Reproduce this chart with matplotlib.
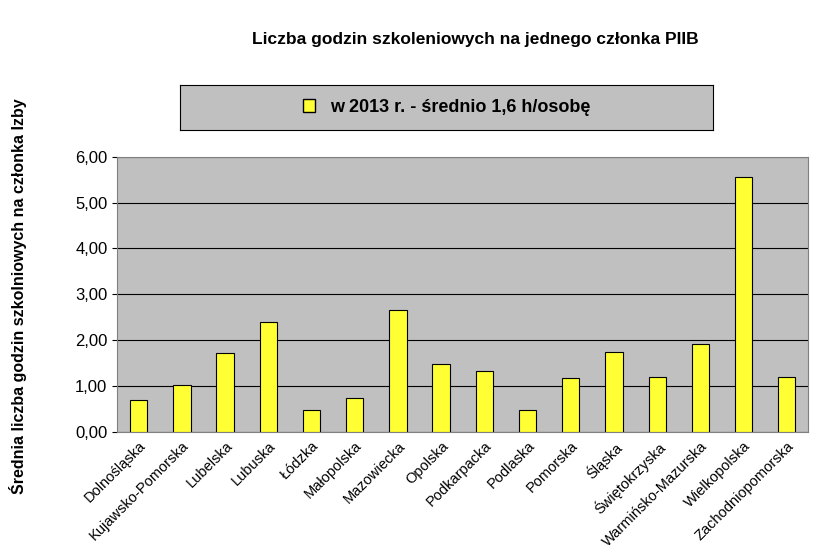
import matplotlib.pyplot as plt
from matplotlib.patches import Patch
import numpy as np

regions = ['Dolnośląska', 'Kujawsko-Pomorska', 'Lubelska', 'Lubuska', 'Łódzka',
           'Małopolska', 'Mazowiecka', 'Opolska', 'Podkarpacka', 'Podlaska',
           'Pomorska', 'Śląska', 'Świętokrzyska', 'Warmińsko-Mazurska',
           'Wielkopolska', 'Zachodniopomorska']
hours = [0.70, 1.02, 1.73, 2.40, 0.48, 0.73, 2.66, 1.47, 1.32, 0.48,
         1.17, 1.75, 1.19, 1.92, 5.55, 1.19]
yticks = [0, 1, 2, 3, 4, 5, 6]

plt.rcParams['font.family'] = 'Liberation Sans'
fig = plt.figure(figsize=(8.19, 5.58), dpi=100)
ax = fig.add_axes([0.143, 0.226, 0.844, 0.493])
ax.set_facecolor('#c0c0c0')

x = np.arange(len(regions))
ax.bar(x, hours, width=0.4, color='#ffff33', edgecolor='black', linewidth=0.8, zorder=3)
ax.set_xlim(-0.5, len(regions) - 0.5)
ax.set_ylim(0, 6)
ax.set_yticks(yticks)
ax.set_yticklabels([f'{v:.2f}'.replace('.', ',') for v in yticks], fontsize=12)
ax.yaxis.grid(True, color='black', linewidth=0.8, zorder=0)
ax.set_xticks(x)
ax.set_xticklabels(regions, rotation=45, ha='right', rotation_mode='anchor', fontsize=10.5)
ax.tick_params(axis='x', length=0, pad=5)
for s in ax.spines.values():
    s.set_color('#808080')

fig.text(0.58, 0.93, 'Liczba godzin szkoleniowych na jednego członka PIIB',
         ha='center', va='center', fontsize=12.5, fontweight='bold')
fig.text(0.022, 0.47, 'Średnia liczba godzin szkolniowych na członka Izby',
         rotation=90, ha='center', va='center', fontsize=11.5, fontweight='bold')

# legend box
lax = fig.add_axes([0.22, 0.767, 0.65, 0.081])
lax.set_facecolor('#c0c0c0')
lax.set_xticks([]); lax.set_yticks([])
for s in lax.spines.values():
    s.set_color('black')
handle = Patch(facecolor='#ffff33', edgecolor='black')
lax.legend([handle], ['w 2013 r. - średnio 1,6 h/osobę'], loc='center', frameon=False,
           prop={'size': 13, 'weight': 'bold'}, handlelength=0.7, handleheight=0.7)

fig.savefig('out.png', dpi=100)
